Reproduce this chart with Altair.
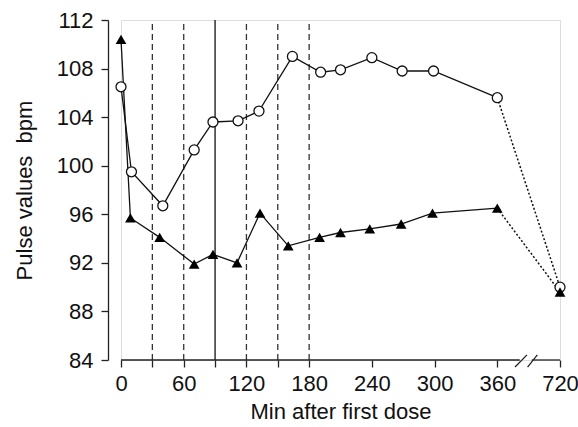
import altair as alt
import pandas as pd

# ---- data ----
minutes_circle = [0, 10, 40, 70, 88, 112, 132, 164, 191, 210, 240, 269, 299, 360, 720]
pulse_circle = [106.5, 99.5, 96.7, 101.3, 103.6, 103.7, 104.5, 109.0, 107.7, 107.9, 108.9, 107.8, 107.8, 105.6, 90.0]

minutes_triangle = [0, 9, 37, 70, 88, 111, 133, 160, 190, 210, 238, 268, 298, 360, 720]
pulse_triangle = [110.4, 95.7, 94.1, 91.9, 92.7, 92.0, 96.1, 93.4, 94.1, 94.5, 94.8, 95.2, 96.1, 96.5, 89.6]

dashed_minutes = [30, 60, 120, 150, 180]
solid_minutes = [90]

x_tick_values = [0, 30, 60, 90, 120, 150, 180, 240, 300, 360, 420]
y_tick_values = [84, 88, 92, 96, 100, 104, 108, 112]

# axis break: 720 min is drawn at the 420 position
BREAK_CALC = "datum.minute > 360 ? 420 : datum.minute"

FONT = "Liberation Sans"
FS = 22
W, H = 439, 340

df = pd.DataFrame({
    "minute": minutes_circle + minutes_triangle,
    "pulse": pulse_circle + pulse_triangle,
    "group": ["circle"] * len(minutes_circle) + ["triangle"] * len(minutes_triangle),
})

xscale = alt.Scale(domain=[0, 420], nice=False, zero=False)
yscale = alt.Scale(domain=[84, 112], nice=False, zero=False)

x_axis = alt.Axis(
    values=x_tick_values,
    labelExpr="datum.value == 420 ? '720' : (datum.value == 30 || datum.value == 90 || datum.value == 150) ? '' : datum.label",
    domain=False, grid=False,
    tickSize=7, tickColor="#222", tickWidth=1.3,
    labelFont=FONT, labelFontSize=FS, labelColor="#111", labelPadding=6, labelFlush=False,
    labelOverlap=False,
    title="Min after first dose", titleFont=FONT, titleFontSize=FS, titleFontWeight="normal",
    titleColor="#111", titlePadding=7,
)
y_axis = alt.Axis(
    values=y_tick_values, offset=13, grid=False,
    domainColor="#222", domainWidth=1.3,
    tickSize=7, tickColor="#222", tickWidth=1.3,
    labelFont=FONT, labelFontSize=FS, labelColor="#111", labelPadding=8,
    title="Pulse values\u00a0\u00a0bpm", titleFont=FONT, titleFontSize=FS, titleFontWeight="normal",
    titleColor="#111", titlePadding=20,
)

base = alt.Chart(df).transform_calculate(xpos=BREAK_CALC)

X = alt.X("xpos:Q", scale=xscale, axis=x_axis)
Y = alt.Y("pulse:Q", scale=yscale, axis=y_axis)

solid_lines = base.transform_filter("datum.minute <= 360").mark_line(
    color="#111", strokeWidth=1.3
).encode(x=X, y=Y, detail="group:N")

dotted_lines = base.transform_filter("datum.minute >= 360").mark_line(
    color="#111", strokeWidth=1.5, strokeDash=[2, 2]
).encode(x=X, y=Y, detail="group:N")

circles = base.transform_filter("datum.group == 'circle'").mark_point(
    shape="circle", filled=True, fill="white", stroke="#111", strokeWidth=1.3, size=100, opacity=1
).encode(x=X, y=Y)

triangles = base.transform_filter("datum.group == 'triangle'").mark_point(
    shape="triangle-up", filled=True, color="#000", size=115, opacity=1
).encode(x=X, y=Y)

# vertical reference lines
vdf = pd.DataFrame({
    "minute": dashed_minutes + solid_minutes,
    "kind": ["dashed"] * len(dashed_minutes) + ["solid"] * len(solid_minutes),
})
vbase = alt.Chart(vdf).transform_calculate(xpos=BREAK_CALC)
dashed_rules = vbase.transform_filter("datum.kind == 'dashed'").mark_rule(
    color="#333", strokeWidth=1.3, strokeDash=[6, 4]
).encode(x=alt.X("xpos:Q", scale=xscale), y=alt.datum(84), y2=alt.datum(112))
solid_rules = vbase.transform_filter("datum.kind == 'solid'").mark_rule(
    color="#111", strokeWidth=1.3
).encode(x=alt.X("xpos:Q", scale=xscale), y=alt.datum(84), y2=alt.datum(112))

# broken x-axis line and break marks
seg_df = pd.DataFrame({"xpos": [0, 393], "xend": [381.5, 420], "yv": [84, 84]})
axis_segments = alt.Chart(seg_df).mark_rule(color="#222", strokeWidth=1.3).encode(
    x=alt.X("xpos:Q", scale=xscale), x2="xend:Q",
    y=alt.Y("yv:Q", scale=yscale), y2="yv:Q",
)
slash_df = pd.DataFrame({
    "xpos": [377, 389], "xend": [388.4, 398.3],
    "ya": [83.42, 83.42], "yb": [84.42, 84.42],
})
slashes = alt.Chart(slash_df).mark_rule(color="#222", strokeWidth=1.3).encode(
    x=alt.X("xpos:Q", scale=xscale), x2="xend:Q",
    y=alt.Y("ya:Q", scale=yscale), y2="yb:Q",
)

chart = alt.layer(
    dashed_rules, solid_rules, axis_segments, slashes,
    solid_lines, dotted_lines, circles, triangles,
).properties(
    width=W, height=H,
    autosize=alt.AutoSizeParams(type="none"),
    padding={"left": 121, "top": 20, "right": 18, "bottom": 67},
).configure_view(stroke=None).configure(background="white")

chart.save("out.html", embed_options={"renderer": "svg", "actions": False})
